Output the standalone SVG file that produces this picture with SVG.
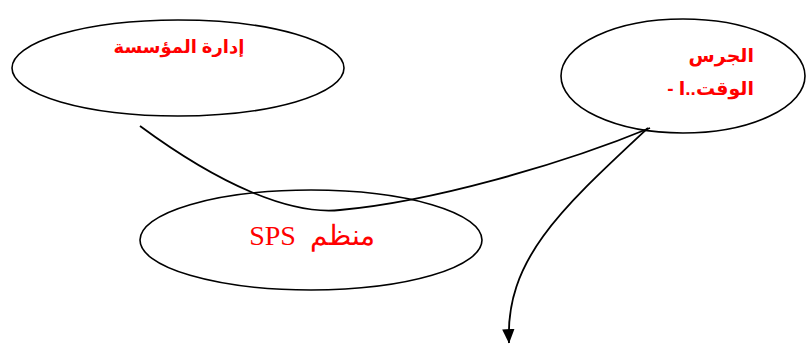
<svg xmlns="http://www.w3.org/2000/svg" width="808" height="345" viewBox="0 0 808 345">
<defs>
<style>
.node{fill:#fff;stroke:#000;stroke-width:1.6}
.lbl{fill:#ff0000;font-family:"Liberation Sans","DejaVu Sans",sans-serif;font-weight:bold;font-size:19px}
.lbl1{fill:#ff0000;font-family:"Liberation Sans","DejaVu Sans",sans-serif;font-weight:bold;font-size:18px}
.lbl2{fill:#ff0000;font-family:"Liberation Serif","DejaVu Serif",serif;font-size:28px;white-space:pre}
.edge{fill:none;stroke:#000;stroke-width:1.8}
</style>
<marker id="arr" viewBox="0 0 14 12" refX="13.5" refY="6" markerWidth="8" markerHeight="7" orient="auto" markerUnits="strokeWidth">
<path d="M0,0 L14,6 L0,12 z" fill="#000"/>
</marker>
</defs>
<rect width="808" height="345" fill="#fff"/>
<g id="node-admin">
<ellipse class="node" cx="178" cy="68" rx="166" ry="48"/>
<text class="lbl1" x="179" y="53" text-anchor="middle" direction="rtl">إدارة المؤسسة</text>
</g>
<g id="node-bell">
<ellipse class="node" cx="683" cy="76" rx="122" ry="57"/>
<text class="lbl" x="754" y="62" text-anchor="start" direction="rtl">الجرس</text>
<text class="lbl" x="754" y="95" text-anchor="start" direction="rtl">الوقت..ا -</text>
</g>
<g id="node-sps">
<ellipse class="node" cx="311" cy="240" rx="171" ry="50"/>
<text class="lbl2" x="312" y="245" text-anchor="middle" direction="rtl">منظم  SPS</text>
</g>
<g id="connectors">
<path class="edge" d="M140,126 C220,185 290,215 340,210 C430,202 560,165 650,128"/>
<path class="edge" d="M648,128 C560,210 505,260 509,343" marker-end="url(#arr)"/>
</g>
</svg>
